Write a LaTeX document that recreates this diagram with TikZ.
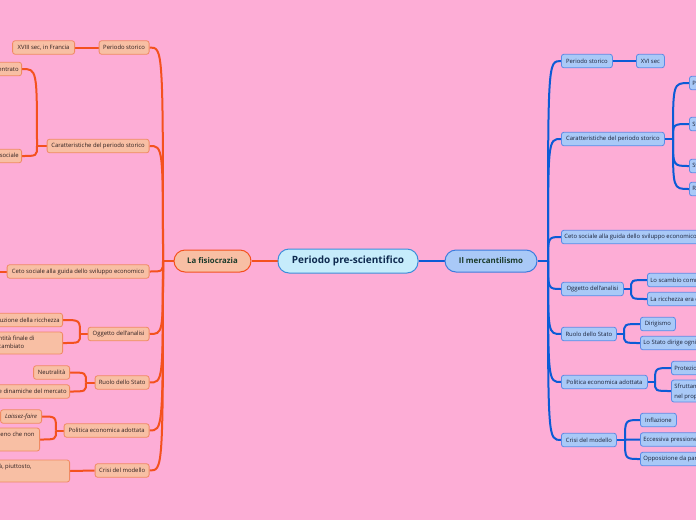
\documentclass[tikz,border=0pt]{standalone}
\usepackage{fontspec}
\setmainfont{Open Sans}
\usetikzlibrary{calc}
\definecolor{bgc}{HTML}{FDADD6}
\definecolor{oline}{HTML}{F4511E}
\definecolor{lfill}{HTML}{F8BFA4}
\definecolor{lborder}{HTML}{F08A62}
\definecolor{ltext}{HTML}{2E2020}
\definecolor{bline}{HTML}{0B5BD6}
\definecolor{rfill}{HTML}{A9C9F7}
\definecolor{rborder}{HTML}{5B8BE6}
\definecolor{rtext}{HTML}{1A2238}
\definecolor{cfill}{HTML}{C6ECFB}
\definecolor{cborder}{HTML}{3B8EDB}
\definecolor{ctext}{HTML}{0E2A4F}
\definecolor{ftext}{HTML}{1B3B2B}
\pgfdeclarelayer{bg}
\pgfdeclarelayer{lines}
\pgfsetlayers{bg,lines,main}
\tikzset{
  base/.style={rounded corners=2.5pt, line width=0.8pt, inner xsep=3pt, inner ysep=0pt,
    minimum height=13.5pt, font=\fontsize{5.9}{7}\selectfont},
  lnode/.style={base, fill=lfill, draw=lborder, text=ltext},
  rnode/.style={base, fill=rfill, draw=rborder, text=rtext},
  twol/.style={minimum height=22pt, font=\fontsize{5.9}{8.5}\selectfont},
  twor/.style={minimum height=22pt, font=\fontsize{5.9}{10}\selectfont},
  lline/.style={draw=oline, line width=2pt},
  rline/.style={draw=bline, line width=2pt},
  trunkl/.style={draw=oline, line width=2.6pt},
  trunkr/.style={draw=bline, line width=2.6pt},
  centre/.style={fill=cfill, draw=cborder, line width=1pt, rounded corners=11pt,
    minimum width=140pt, minimum height=24pt, text=ctext, font=\fontsize{10}{12}\bfseries},
  fisio/.style={fill=lfill, draw=oline, line width=1pt, rounded corners=11pt,
    minimum width=77pt, minimum height=22pt, text=ftext, font=\fontsize{7.8}{9}\bfseries},
  merc/.style={fill=rfill, draw=bline!80, line width=1pt, rounded corners=11pt,
    minimum width=92pt, minimum height=22pt, text=ftext, font=\fontsize{7.9}{9}\bfseries},
}
\begin{document}
\begin{tikzpicture}[x=1pt,y=-1pt]
\useasboundingbox (0,0) rectangle (696,520);
\begin{pgfonlayer}{bg}
\fill[bgc] (0,0) rectangle (696,520);
\end{pgfonlayer}

% central nodes
\node[centre] (c) at (348,261) {Periodo pre-scientifico};
\node[fisio] (f) at (212.5,261) {La fisiocrazia};
\node[merc] (m) at (491,261) {Il mercantilismo};
\coordinate (LJ) at (163,261);
\coordinate (RJ) at (548,261);

% left first level
\node[lnode, anchor=east, minimum width=50pt] (lps) at (149.5,47.5) {Periodo storico};
\node[lnode, anchor=east, minimum width=102pt] (lcar) at (149.5,146) {Caratteristiche del periodo storico};
\node[lnode, anchor=east, minimum width=142pt] (lceto) at (149.5,271.5) {Ceto sociale alla guida dello sviluppo economico};
\node[lnode, anchor=east, minimum width=61pt] (logg) at (149.5,334) {Oggetto dell'analisi};
\node[lnode, anchor=east, minimum width=54pt] (lruo) at (149.5,382.5) {Ruolo dello Stato};
\node[lnode, anchor=east, minimum width=85pt] (lpol) at (149.5,430.5) {Politica economica adottata};
\node[lnode, anchor=east, minimum width=54pt] (lcri) at (149.5,470.5) {Crisi del modello};

% left second level
\node[lnode, anchor=east, minimum width=62pt] (lxviii) at (75,47.5) {XVIII sec, in Francia};
\node[lnode, anchor=east] (lacc) at (22,69) {Potere accentrato};
\node[lnode, anchor=east] (lsoc) at (22,156) {Rigida divisione sociale};
\coordinate (lcetoc) at (-12,271.5);
\node[lnode, anchor=east] (lric) at (63,320) {Produzione della ricchezza};
\node[lnode, twol, anchor=east] (lqua) at (63,343) {\begin{tabular}{@{}l@{\hspace{25pt}}}La quantità finale di\\bene scambiato\end{tabular}};
\node[lnode, anchor=east, minimum width=36pt] (lneu) at (70,372.5) {Neutralità};
\node[lnode, anchor=east] (ldin) at (70,391.5) {Non interferenza nelle dinamiche del mercato};
\node[lnode, anchor=east, minimum width=41pt] (llai) at (42,416.5) {\itshape Laissez-faire};
\node[lnode, twol, anchor=east, minimum height=23pt] (lmeno) at (40,439.5) {\begin{tabular}{@{}l@{\hspace{2pt}}}Lo Stato non deve intervenire, a meno che non\\sia indispensabile\end{tabular}};
\node[lnode, twol, anchor=east] (lpiu) at (70,471) {\begin{tabular}{@{}l@{\hspace{35pt}}}Non si trattò tanto di un fallimento della realtà, piuttosto,\\di una trasformazione\end{tabular}};

% right first level
\node[rnode, anchor=west, minimum width=51pt] (rps) at (561,61) {Periodo storico};
\node[rnode, anchor=west, minimum width=103pt] (rcar) at (561,139) {Caratteristiche del periodo storico};
\node[rnode, anchor=west] (rceto) at (561,237) {Ceto sociale alla guida dello sviluppo economico};
\node[rnode, anchor=west, minimum width=62pt] (rogg) at (561,289) {Oggetto dell'analisi};
\node[rnode, anchor=west, minimum width=55pt] (rruo) at (561,334) {Ruolo dello Stato};
\node[rnode, anchor=west, minimum width=86pt] (rpol) at (561,382) {Politica economica adottata};
\node[rnode, anchor=west, minimum width=55pt] (rcri) at (561,440) {Crisi del modello};

% right second level
\node[rnode, anchor=west, minimum width=28pt] (rxvi) at (636,61) {XVI sec};
\node[rnode, anchor=west] (rpot) at (689,83) {Potere assoluto del sovrano};
\node[rnode, anchor=west] (rsta) at (689,124) {Stati nazionali};
\node[rnode, anchor=west] (rsvi) at (689,166) {Sviluppo dei commerci};
\node[rnode, anchor=west] (rraf) at (689,189) {Rafforzamento della borghesia};
\node[rnode, anchor=west] (rsca) at (647,280) {Lo scambio commerciale};
\node[rnode, anchor=west] (rric) at (647,299) {La ricchezza era data dall'oro};
\node[rnode, anchor=west, minimum width=35pt] (rdir) at (640,324) {Dirigismo};
\node[rnode, anchor=west] (rdirige) at (640,343) {Lo Stato dirige ogni attività economica};
\node[rnode, anchor=west] (rpro) at (671,368) {Protezionismo};
\node[rnode, twor, anchor=west] (rsfr) at (671,391) {\begin{tabular}{@{}l@{}}Sfruttamento delle colonie\\nel proprio interesse\end{tabular}};
\node[rnode, anchor=west, minimum width=36pt] (rinf) at (640,420) {Inflazione};
\node[rnode, anchor=west] (recc) at (640,439.5) {Eccessiva pressione fiscale};
\node[rnode, anchor=west] (ropp) at (640,459) {Opposizione da parte della borghesia};

% junctions
\coordinate (JLcar) at (37,146);
\coordinate (JLogg) at (80,334);
\coordinate (JLruo) at (86,382.5);
\coordinate (JLpol) at (56,430.5);
\coordinate (JRcar) at (673,139);
\coordinate (JRogg) at (631,289);
\coordinate (JRruo) at (624,334);
\coordinate (JRpol) at (655,382);
\coordinate (JRcri) at (625,440);

\begin{pgfonlayer}{lines}
\draw[trunkl] (f) -- (c);
\draw[trunkr] (c) -- (m);
\draw[trunkl] (f.west) -- (LJ);
\draw[trunkr] (m.east) -- (RJ);
\foreach \n in {lps,lcar,lceto,logg,lruo,lpol,lcri}
  \draw[lline] (LJ) .. controls (LJ |- \n.east) .. (\n.east);
\foreach \n in {rps,rcar,rceto,rogg,rruo,rpol,rcri}
  \draw[rline] (RJ) .. controls (RJ |- \n.west) .. (\n.west);
% left sub
\draw[lline] (lps.west) -- (lxviii.east);
\draw[lline] (lceto.west) -- (lcetoc);
\draw[lline] (lcri.west) -- (lpiu.east);
\draw[lline] (lcar.west) -- (JLcar);
\foreach \n in {lacc,lsoc} \draw[lline] (JLcar) .. controls (JLcar |- \n.east) .. (\n.east);
\draw[lline] (logg.west) -- (JLogg);
\foreach \n in {lric,lqua} \draw[lline] (JLogg) .. controls (JLogg |- \n.east) .. (\n.east);
\draw[lline] (lruo.west) -- (JLruo);
\foreach \n in {lneu,ldin} \draw[lline] (JLruo) .. controls (JLruo |- \n.east) .. (\n.east);
\draw[lline] (lpol.west) -- (JLpol);
\foreach \n in {llai,lmeno} \draw[lline] (JLpol) .. controls (JLpol |- \n.east) .. (\n.east);
% right sub
\draw[rline] (rps.east) -- (rxvi.west);
\draw[rline] (rcar.east) -- (JRcar);
\foreach \n in {rpot,rsta,rsvi,rraf} \draw[rline] (JRcar) .. controls (JRcar |- \n.west) .. (\n.west);
\draw[rline] (rogg.east) -- (JRogg);
\foreach \n in {rsca,rric} \draw[rline] (JRogg) .. controls (JRogg |- \n.west) .. (\n.west);
\draw[rline] (rruo.east) -- (JRruo);
\foreach \n in {rdir,rdirige} \draw[rline] (JRruo) .. controls (JRruo |- \n.west) .. (\n.west);
\draw[rline] (rpol.east) -- (JRpol);
\foreach \n in {rpro,rsfr} \draw[rline] (JRpol) .. controls (JRpol |- \n.west) .. (\n.west);
\draw[rline] (rcri.east) -- (JRcri);
\foreach \n in {rinf,recc,ropp} \draw[rline] (JRcri) .. controls (JRcri |- \n.west) .. (\n.west);
\end{pgfonlayer}
\end{tikzpicture}
\end{document}
